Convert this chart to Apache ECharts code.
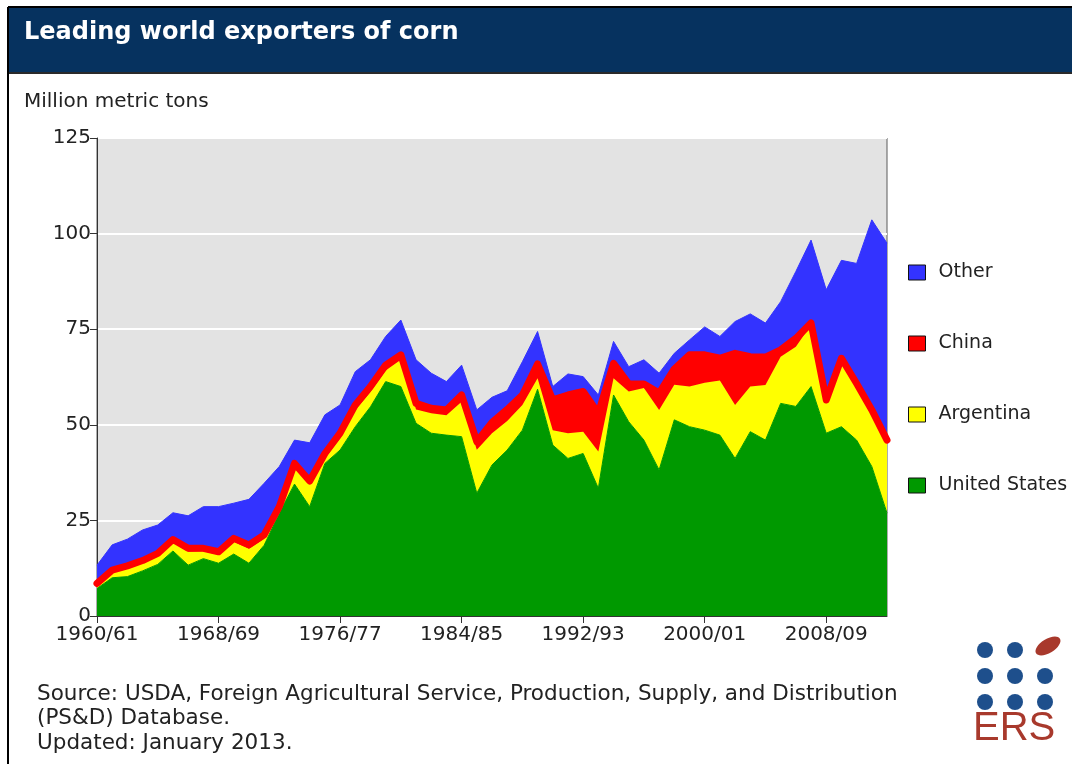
<!DOCTYPE html>
<html><head><meta charset="utf-8">
<script src="https://cdn.jsdelivr.net/npm/echarts@6/dist/echarts.min.js"></script>
<style>html,body{margin:0;padding:0;background:#fff}#c{width:1072px;height:764px}</style>
</head><body><div id="c"></div>
<script>
const categories = ["1960/61","1961/62","1962/63","1963/64","1964/65","1965/66","1966/67","1967/68","1968/69","1969/70",
"1970/71","1971/72","1972/73","1973/74","1974/75","1975/76","1976/77","1977/78","1978/79","1979/80",
"1980/81","1981/82","1982/83","1983/84","1984/85","1985/86","1986/87","1987/88","1988/89","1989/90",
"1990/91","1991/92","1992/93","1993/94","1994/95","1995/96","1996/97","1997/98","1998/99","1999/00",
"2000/01","2001/02","2002/03","2003/04","2004/05","2005/06","2006/07","2007/08","2008/09","2009/10",
"2010/11","2011/12","2012/13"];

const unitedStates = [7.2,10.0,10.3,11.8,13.5,17.0,13.3,15.0,13.8,16.2,
13.8,18.5,26.9,34.5,28.6,39.9,43.4,49.5,54.7,61.3,
60.0,50.4,47.8,47.3,46.9,32.1,39.5,43.4,48.6,59.3,
44.7,41.2,42.5,33.4,57.8,50.8,46.0,38.2,51.3,49.5,
48.6,47.3,41.2,48.2,46.0,55.6,54.8,60.0,47.8,49.5,
46.0,39.1,26.9];

const argentina = [0.8,1.3,2.1,2.0,2.1,2.2,3.5,1.9,2.2,3.2,
3.8,1.7,0.9,4.3,5.9,1.3,3.1,4.3,3.9,2.9,
7.0,3.6,5.2,5.2,9.1,11.4,8.3,7.6,6.6,2.9,
3.9,6.6,5.7,9.6,4.4,7.9,13.6,15.7,9.2,10.5,
12.4,14.3,14.0,11.8,14.4,12.2,15.6,16.1,8.1,17.5,
14.4,14.4,18.7];

const china = [0.5,0.7,0.7,0.7,0.8,0.8,0.9,0.8,0.8,0.9,
1.0,1.0,0.8,1.1,0.8,1.3,1.3,1.4,1.4,1.4,
1.3,1.6,1.3,1.4,1.8,2.1,2.8,3.0,2.6,3.7,
7.9,10.0,10.5,10.0,3.9,2.0,1.1,4.4,4.1,8.3,
7.3,5.8,13.5,7.8,7.3,1.8,2.2,0.5,0.6,0.4,
0.4,0.4,0.4];

const other = [4.8,6.6,7.0,8.0,7.4,7.0,8.5,10.9,11.8,9.2,
11.9,13.5,10.5,6.1,10.0,10.1,7.4,8.7,7.0,7.5,
9.1,11.4,9.2,7.4,7.8,8.3,6.6,4.9,8.7,8.5,
3.5,5.5,3.9,4.8,5.7,4.5,6.3,5.2,4.1,3.9,
7.3,5.7,8.3,11.2,8.9,12.6,17.5,21.7,28.8,25.6,
31.4,49.7,51.5];

const seriesNames = ["United States","Argentina","China","Other"];
const seriesColors = ["#009900","#ffff00","#ff0000","#3333ff"];
const legendOrder = ["Other","China","Argentina","United States"];

const FONT = "DejaVu Sans";
const chart = echarts.init(document.getElementById('c'), null, {renderer:'canvas'});

const dataSets = [unitedStates, argentina, china, other];
const series = dataSets.map((d, k) => {
  const isChina = seriesNames[k] === "China";
  return {
    name: seriesNames[k],
    type: 'line',
    stack: 'total',
    data: d,
    symbol: 'none',
    showSymbol: false,
    z: isChina ? 5 : 2,
    clip: !isChina,
    itemStyle: {color: seriesColors[k]},
    lineStyle: isChina ? {color: seriesColors[k], width: 7, cap: 'round', join: 'round'}
                       : {color: seriesColors[k], width: 1, opacity: 1},
    areaStyle: {color: seriesColors[k], opacity: 1},
    emphasis: {disabled: true}
  };
});

const option = {
  animation: false,
  backgroundColor: '#ffffff',
  textStyle: {fontFamily: FONT},
  grid: {left: 97, top: 138, right: 185, bottom: 148, show: true,
         backgroundColor: '#e3e3e3', borderColor: '#5a5a5a', borderWidth: 1},
  xAxis: {
    type: 'category', boundaryGap: false, data: categories,
    axisLine: {show: true, lineStyle: {color: '#333', width: 1}},
    axisTick: {show: true, interval: 7, length: 7, lineStyle: {color: '#333'}},
    axisLabel: {interval: 7, color: '#222', fontSize: 20, fontFamily: FONT, margin: 9},
    splitLine: {show: false}
  },
  yAxis: {
    type: 'value', min: 0, max: 125, interval: 25,
    axisLine: {show: true, lineStyle: {color: '#333', width: 1}},
    axisTick: {show: true, length: 7, lineStyle: {color: '#333'}},
    axisLabel: {color: '#222', fontSize: 20, fontFamily: FONT, margin: 6},
    splitLine: {show: true, lineStyle: {color: '#ffffff', width: 2}}
  },
  legend: {
    orient: 'vertical', left: 908, top: 263, itemGap: 52, padding: 0,
    itemWidth: 17, itemHeight: 15, icon: 'rect',
    selectedMode: false,
    textStyle: {fontSize: 19, color: '#222', fontFamily: FONT, padding: [0,0,0,8]},
    data: legendOrder.map(n => ({name: n, itemStyle: {color: seriesColors[seriesNames.indexOf(n)], borderColor: '#111', borderWidth: 1}}))
  },
  series: series,
  graphic: [
    {type: 'rect', shape: {x: 8, y: 7, width: 1064, height: 66}, style: {fill: '#06325f'}, z: 1},
    {type: 'line', shape: {x1: 8, y1: 7, x2: 1072, y2: 7}, style: {stroke: '#000', lineWidth: 2}, z: 2},
    {type: 'line', shape: {x1: 8, y1: 73, x2: 1072, y2: 73}, style: {stroke: '#2a2a2a', lineWidth: 2}, z: 2},
    {type: 'line', shape: {x1: 8, y1: 7, x2: 8, y2: 764}, style: {stroke: '#000', lineWidth: 2}, z: 2},
    {type: 'text', left: 24, top: 21, style: {text: 'Leading world exporters of corn', fill: '#ffffff', font: 'bold 24px "DejaVu Sans"'}, z: 3},
    {type: 'text', left: 24, top: 92, style: {text: 'Million metric tons', fill: '#222', font: '20px "DejaVu Sans"'}, z: 3},
    {type: 'text', left: 37, top: 682, style: {text: 'Source: USDA, Foreign Agricultural Service, Production, Supply, and Distribution\n(PS&D) Database.\nUpdated: January 2013.', fill: '#222', font: '21.5px "DejaVu Sans"', lineHeight: 24.5}, z: 3},
    {type: 'circle', shape: {cx: 985, cy: 650, r: 8}, style: {fill: '#1e4f8c'}},
    {type: 'circle', shape: {cx: 1015, cy: 650, r: 8}, style: {fill: '#1e4f8c'}},
    {type: 'ellipse', shape: {cx: 1048, cy: 646, rx: 14, ry: 7}, rotation: 0.55, originX: 1048, originY: 646, style: {fill: '#a8392c'}},
    {type: 'circle', shape: {cx: 985, cy: 676, r: 8}, style: {fill: '#1e4f8c'}},
    {type: 'circle', shape: {cx: 1015, cy: 676, r: 8}, style: {fill: '#1e4f8c'}},
    {type: 'circle', shape: {cx: 1045, cy: 676, r: 8}, style: {fill: '#1e4f8c'}},
    {type: 'circle', shape: {cx: 985, cy: 702, r: 8}, style: {fill: '#1e4f8c'}},
    {type: 'circle', shape: {cx: 1015, cy: 702, r: 8}, style: {fill: '#1e4f8c'}},
    {type: 'circle', shape: {cx: 1045, cy: 702, r: 8}, style: {fill: '#1e4f8c'}},
    {type: 'text', left: 973, top: 709, style: {text: 'ERS', fill: '#a8392c', font: '40px "Liberation Sans"'}, z: 3}
  ]
};
chart.setOption(option);
</script>
</body></html>
